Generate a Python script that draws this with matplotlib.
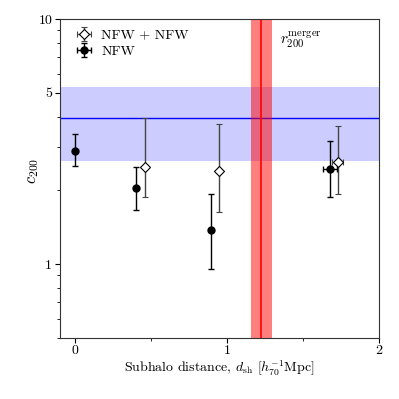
import matplotlib
matplotlib.use("Agg")
import matplotlib.pyplot as plt
import numpy as np
from matplotlib.ticker import NullFormatter

plt.rcParams['font.family'] = 'serif'
plt.rcParams['font.serif'] = ['cmr10']
plt.rcParams['mathtext.fontset'] = 'cm'
plt.rcParams['axes.formatter.use_mathtext'] = True
plt.rcParams['axes.unicode_minus'] = False

# NFW (single) fits
nfw_x = [0.0, 0.40, 0.893, 1.679]
nfw_xerr = [0.0, 0.0, 0.0, 0.045]
nfw_c = [2.91, 2.04, 1.375, 2.45]
nfw_hi = [3.40, 2.49, 1.94, 3.17]
nfw_lo = [2.51, 1.66, 0.954, 1.88]

# NFW + NFW fits
nn_x = [0.458, 0.946, 1.727]
nn_xerr = [0.0, 0.0, 0.035]
nn_c = [2.49, 2.39, 2.62]
nn_hi = [3.95, 3.73, 3.68]
nn_lo = [1.88, 1.63, 1.93]

# reference values
c_main = 3.95
c_main_lo, c_main_hi = 2.63, 5.28
r200 = 1.226
r200_lo, r200_hi = 1.155, 1.298

fig = plt.figure(figsize=(3.99, 3.99), dpi=100)
ax = fig.add_axes([0.150, 0.153, 0.800, 0.799])

ax.axhspan(c_main_lo, c_main_hi, color='blue', alpha=0.2, lw=0, zorder=0)
ax.axhline(c_main, color='blue', lw=1.0, zorder=1)
ax.axvspan(r200_lo, r200_hi, color='red', alpha=0.5, lw=0, zorder=1)
ax.axvline(r200, color='red', lw=1.2, zorder=2)

nn_c = np.array(nn_c)
ax.errorbar(nn_x, nn_c, yerr=[nn_c - np.array(nn_lo), np.array(nn_hi) - nn_c],
            xerr=nn_xerr, fmt='D', mfc='white', mec='black', mew=0.8, ms=5,
            ecolor='#444444', elinewidth=1.0, capsize=2, label='NFW + NFW', zorder=4)
nfw_c = np.array(nfw_c)
ax.errorbar(nfw_x, nfw_c, yerr=[nfw_c - np.array(nfw_lo), np.array(nfw_hi) - nfw_c],
            xerr=nfw_xerr, fmt='o', mfc='black', mec='black', ms=5,
            ecolor='black', elinewidth=1.0, capsize=2, label='NFW', zorder=5)

ax.set_yscale('log')
ax.set_xlim(-0.1, 2.0)
ax.set_ylim(0.5, 10)
ax.set_yticks([1, 5, 10])
ax.set_yticklabels(['1', '5', '10'])
ax.set_xticks([0, 1, 2])
ax.set_xticklabels(['0', '1', '2'])
ax.set_xticks([0.5, 1.5], minor=True)
ax.tick_params(labelsize=10, direction='out', pad=2)
ax.tick_params(axis='x', pad=1.5)
ax.yaxis.set_minor_formatter(NullFormatter())
for s in ax.spines.values():
    s.set_color('#333333')

ax.text(1.35, 7.9, r'$r_{200}^{\rm merger}$', fontsize=11)
ax.set_ylabel(r'$c_{200}$', fontsize=12)
ax.yaxis.set_label_coords(-0.06, 0.523)
ax.set_xlabel(r'Subhalo distance, $d_{\rm sh}$ [$h_{70}^{-1}$Mpc]', fontsize=10)
ax.xaxis.set_label_coords(0.5, -0.066)

ax.legend(loc='upper left', bbox_to_anchor=(0.012, 1.0), frameon=False, fontsize=10,
          handletextpad=0.5, handlelength=1.5, labelspacing=0.25, borderaxespad=0.3)

fig.savefig('out.png', dpi=100)
